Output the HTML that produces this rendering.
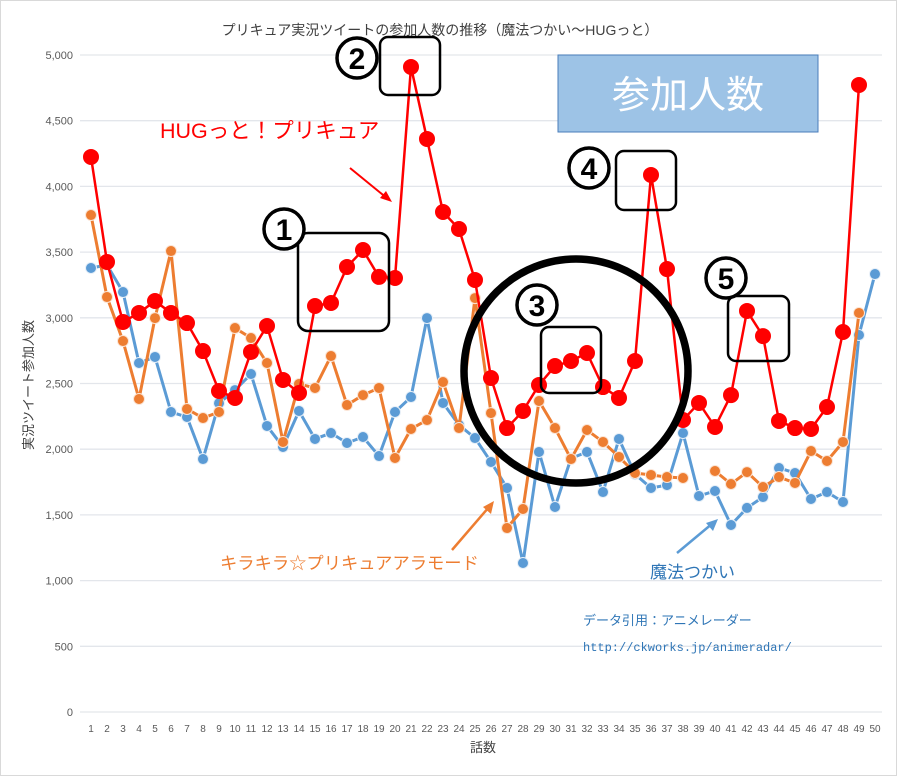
<!DOCTYPE html>
<html><head><meta charset="utf-8">
<style>
html,body{margin:0;padding:0;background:#fff;}
svg{display:block;font-family:"Liberation Sans","Noto Sans CJK JP",sans-serif;}
</style></head>
<body>
<svg id="chart" width="897" height="776" viewBox="0 0 897 776" xmlns="http://www.w3.org/2000/svg">
<rect x="0.5" y="0.5" width="896" height="775" fill="#fff" stroke="#d9d9d9"/>
<text x="440" y="35" text-anchor="middle" font-size="14" fill="#404040">プリキュア実況ツイートの参加人数の推移（魔法つかい〜HUGっと）</text>
<g id="grid"></g>
<g id="yticks"></g>
<g id="xticks"></g>
<text transform="translate(33,385) rotate(-90)" text-anchor="middle" font-size="13" fill="#404040">実況ツイート参加人数</text>
<text x="483" y="752" text-anchor="middle" font-size="13" fill="#404040">話数</text>
<g id="series"></g>

<rect x="558" y="55" width="260" height="77" fill="#9dc3e6" stroke="#4a7ebb" stroke-width="1"/>
<text x="688" y="108" text-anchor="middle" font-size="38" fill="#fff">参加人数</text>

<text x="160" y="138" font-size="21.5" fill="#ff0000">HUGっと！プリキュア</text>
<line x1="350" y1="168" x2="388" y2="199" stroke="#ff0000" stroke-width="2"/>
<polygon points="392,202 380,198 386,191" fill="#ff0000"/>

<text x="220" y="569" font-size="17.3" fill="#ed7d31">キラキラ☆プリキュアアラモード</text>
<line x1="452" y1="550" x2="489" y2="507" stroke="#ed7d31" stroke-width="2.5"/>
<polygon points="494,501 491,514 483,507" fill="#ed7d31"/>

<text x="650" y="578" font-size="17" fill="#2e75b6">魔法つかい</text>
<line x1="677" y1="553" x2="713" y2="523" stroke="#5b9bd5" stroke-width="2.5"/>
<polygon points="718,519 713,531 706,523" fill="#5b9bd5"/>

<text x="583" y="625" font-size="13" fill="#2e75b6">データ引用：アニメレーダー</text>
<text x="583" y="651" font-size="12" fill="#2e75b6" font-family="Liberation Mono, monospace">http://ckworks.jp/animeradar/</text>

<g fill="none" stroke="#000">
<rect x="380" y="37" width="60" height="58" rx="8" stroke-width="2.5"/>
<rect x="298" y="233" width="91" height="98" rx="10" stroke-width="2.5"/>
<rect x="541" y="327" width="60" height="66" rx="8" stroke-width="2.5"/>
<rect x="616" y="151" width="60" height="59" rx="8" stroke-width="2.5"/>
<rect x="728" y="296" width="61" height="65" rx="8" stroke-width="2.5"/>
<circle cx="576" cy="371" r="112" stroke-width="7.5"/>
</g>
<g font-size="30" font-weight="bold" fill="#000" text-anchor="middle">
<circle cx="357" cy="58" r="20" fill="#fff" stroke="#000" stroke-width="3.5"/><text x="357" y="69">2</text>
<circle cx="284" cy="229" r="20" fill="#fff" stroke="#000" stroke-width="3.5"/><text x="284" y="240">1</text>
<circle cx="537" cy="305" r="20" fill="#fff" stroke="#000" stroke-width="3.5"/><text x="537" y="316">3</text>
<circle cx="589" cy="168" r="20" fill="#fff" stroke="#000" stroke-width="3.5"/><text x="589" y="179">4</text>
<circle cx="726" cy="278" r="20" fill="#fff" stroke="#000" stroke-width="3.5"/><text x="726" y="289">5</text>
</g>
</svg>
<script>
const episodes = Array.from({length:50},(_,i)=>i+1);
const yTicks = [0,500,1000,1500,2000,2500,3000,3500,4000,4500,5000];
const mahou = [3379,3402,3196,2656,2702,2283,2245,1925,2350,2450,2572,2177,2017,2291,2078,2123,2047,2093,1948,2283,2397,2998,2352,2184,2085,1903,1705,1134,1979,1560,1930,1979,1674,2078,1810,1705,1727,2123,1644,1682,1423,1553,1636,1857,1819,1621,1674,1598,2869,3333];
const kira = [3782,3158,2823,2382,2998,3508,2306,2237,2283,2922,2846,2656,2055,2496,2466,2709,2336,2412,2466,1933,2154,2222,2511,2161,3150,2275,1400,1545,2367,2161,1925,2146,2055,1941,1819,1804,1788,1781,null,1834,1735,1826,1712,1788,1743,1986,1910,2055,3037,null];
const hug = [4224,3425,2968,3037,3128,3037,2960,2747,2443,2390,2740,2938,2527,2428,3090,3113,3387,3516,3311,3303,4909,4361,3805,3676,3288,2542,2161,2291,2489,2633,2671,2732,2473,2390,2671,4087,3371,2222,2352,2169,2412,3052,2861,2215,2161,2154,2321,2892,4772,null];

const NS="http://www.w3.org/2000/svg";
const X0=91, XSTEP=16, Y0=712, YSCALE=657/5000;
const xs = i => X0 + i*XSTEP;
const ys = v => Y0 - v*YSCALE;
function mk(tag, attrs, parent){const e=document.createElementNS(NS,tag);for(const k in attrs)e.setAttribute(k,attrs[k]);parent.appendChild(e);return e;}
const grid=document.getElementById('grid'), yt=document.getElementById('yticks'), xt=document.getElementById('xticks'), ser=document.getElementById('series');
yTicks.forEach(v=>{
  const l=mk('line',{x1:80,x2:882,y1:ys(v),y2:ys(v),stroke:'#e3e6eb','stroke-width':1.3},grid);
  
  
  const t=mk('text',{x:73,y:ys(v)+4,'text-anchor':'end','font-size':11,fill:'#595959'},yt);
  t.textContent=v.toLocaleString('en-US');
  
  
});
episodes.forEach((e,i)=>{
  const t=mk('text',{x:xs(i),y:732,'text-anchor':'middle','font-size':10,fill:'#595959'},xt);
  t.textContent=e;
  
  
});
function draw(vals,color,w,r,stroke,name){
  const g=mk('g',{},ser);
  
  
  let seg=[];
  const segs=[];
  vals.forEach((v,i)=>{ if(v==null){if(seg.length)segs.push(seg);seg=[];} else seg.push(xs(i)+','+ys(v)); });
  if(seg.length)segs.push(seg);
  segs.forEach(s=>{
    const p=mk('polyline',{points:s.join(' '),fill:'none',stroke:color,'stroke-width':w,'stroke-linejoin':'round'},g);
    
    
  });
  vals.forEach((v,i)=>{ if(v==null)return;
    const c=mk('circle',{cx:xs(i),cy:ys(v),r:r,fill:color,stroke:stroke,'stroke-width':1},g);
    
    
  });
}
draw(mahou,'#5b9bd5',3,5.5,'#e8f0f8','mahou');
draw(kira,'#ed7d31',3,5.5,'#fbe5d6','kira');
draw(hug,'#ff0000',2.5,7.5,'#ff0000','hug');
</script>
</body></html>
